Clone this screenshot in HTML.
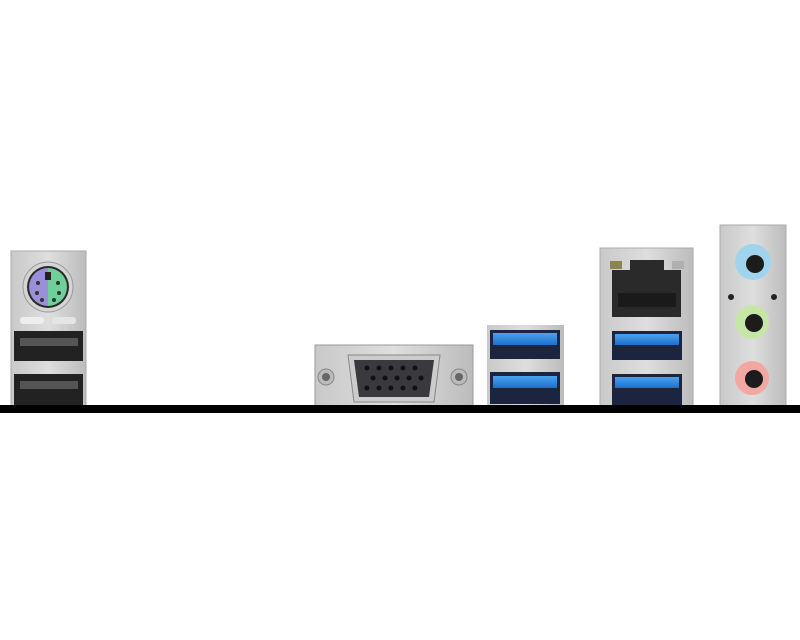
<!DOCTYPE html>
<html><head><style>html,body{margin:0;padding:0;background:#fff;width:800px;height:640px;overflow:hidden}</style></head>
<body>
<svg width="800" height="640" viewBox="0 0 800 640" xmlns="http://www.w3.org/2000/svg">
<defs>
<linearGradient id="m" x1="0" x2="1"><stop offset="0" stop-color="#c9c9c9"/><stop offset=".5" stop-color="#dedede"/><stop offset="1" stop-color="#bcbcbc"/></linearGradient>
<linearGradient id="b" x1="0" y1="0" x2="0" y2="1"><stop offset="0" stop-color="#4aa3ee"/><stop offset="1" stop-color="#1e6fc9"/></linearGradient>
</defs>
<!-- PS2 + USB2 panel -->
<rect x="11" y="251" width="75" height="155" fill="url(#m)" stroke="#aaa"/>
<circle cx="48" cy="287" r="25" fill="#d4d4d4" stroke="#999"/>
<circle cx="48" cy="287" r="21" fill="#2a2a2a"/>
<path d="M48 268 A19 19 0 0 0 48 306 Z" fill="#9a90d8"/>
<path d="M48 268 A19 19 0 0 1 48 306 Z" fill="#6fcf98"/>
<rect x="45" y="272" width="6" height="8" fill="#222"/>
<g fill="#333"><circle cx="38" cy="283" r="2"/><circle cx="58" cy="283" r="2"/><circle cx="37" cy="293" r="2"/><circle cx="59" cy="293" r="2"/><circle cx="42" cy="300" r="2"/><circle cx="54" cy="300" r="2"/></g>
<rect x="20" y="317" width="24" height="7" rx="3" fill="#eee"/><rect x="52" y="317" width="24" height="7" rx="3" fill="#e5e5e5"/>
<rect x="14" y="331" width="69" height="30" fill="#222"/><rect x="20" y="338" width="58" height="8" fill="#555"/>
<rect x="14" y="374" width="69" height="31" fill="#222"/><rect x="20" y="381" width="58" height="8" fill="#555"/>
<!-- VGA -->
<rect x="315" y="345" width="158" height="61" fill="url(#m)" stroke="#999"/>
<circle cx="326" cy="377" r="8" fill="#bbb" stroke="#888"/><circle cx="326" cy="377" r="4" fill="#666"/>
<circle cx="459" cy="377" r="8" fill="#bbb" stroke="#888"/><circle cx="459" cy="377" r="4" fill="#666"/>
<path d="M348 355 H440 L434 402 H354 Z" fill="#ccc" stroke="#888"/>
<path d="M354 360 H434 L429 397 H359 Z" fill="#3a3a3e"/>
<g fill="#111"><circle cx="367" cy="368" r="2.5"/><circle cx="379" cy="368" r="2.5"/><circle cx="391" cy="368" r="2.5"/><circle cx="403" cy="368" r="2.5"/><circle cx="415" cy="368" r="2.5"/>
<circle cx="373" cy="378" r="2.5"/><circle cx="385" cy="378" r="2.5"/><circle cx="397" cy="378" r="2.5"/><circle cx="409" cy="378" r="2.5"/><circle cx="421" cy="378" r="2.5"/>
<circle cx="367" cy="388" r="2.5"/><circle cx="379" cy="388" r="2.5"/><circle cx="391" cy="388" r="2.5"/><circle cx="403" cy="388" r="2.5"/><circle cx="415" cy="388" r="2.5"/></g>
<!-- USB3 stacked -->
<rect x="487" y="325" width="77" height="81" fill="url(#m)"/>
<rect x="490" y="330" width="70" height="29" fill="#1c2540"/><rect x="493" y="333" width="64" height="12" fill="url(#b)"/>
<rect x="490" y="372" width="70" height="32" fill="#1c2540"/><rect x="493" y="376" width="64" height="12" fill="url(#b)"/>
<!-- LAN + USB3 -->
<rect x="600" y="248" width="93" height="158" fill="url(#m)" stroke="#aaa"/>
<rect x="610" y="261" width="12" height="8" fill="#8c8450"/><rect x="672" y="261" width="12" height="8" fill="#b0b0b0"/>
<path d="M612 270 H630 V260 H664 V270 H681 V317 H612 Z" fill="#2a2a2a"/>
<rect x="618" y="293" width="58" height="14" fill="#1a1a1a"/>
<rect x="612" y="331" width="70" height="29" fill="#1c2540"/><rect x="615" y="334" width="64" height="11" fill="url(#b)"/>
<rect x="612" y="374" width="70" height="31" fill="#1c2540"/><rect x="615" y="377" width="64" height="11" fill="url(#b)"/>
<!-- Audio -->
<rect x="720" y="225" width="66" height="181" fill="url(#m)" stroke="#aaa"/>
<circle cx="753" cy="262" r="18" fill="#9fd4ec"/><circle cx="755" cy="264" r="9" fill="#1c1c1c"/>
<circle cx="731" cy="297" r="3" fill="#222"/><circle cx="774" cy="297" r="3" fill="#222"/>
<circle cx="752" cy="322" r="17" fill="#c6e6a8"/><circle cx="754" cy="323" r="9" fill="#1c1c1c"/>
<circle cx="752" cy="378" r="17" fill="#f2a8a0"/><circle cx="754" cy="379" r="9" fill="#1c1c1c"/>
<!-- black bar -->
<rect x="0" y="405" width="800" height="8" fill="#000"/>
</svg>
</body></html>
